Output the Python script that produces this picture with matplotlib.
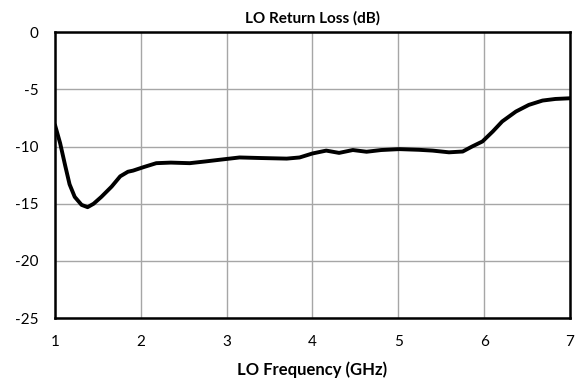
import matplotlib
matplotlib.use('Agg')
import matplotlib.pyplot as plt

# valores
freq_ghz = [1.00, 1.06, 1.12, 1.17, 1.23, 1.31, 1.38, 1.45, 1.54, 1.66, 1.76, 1.85,
            1.91, 2.03, 2.18, 2.35, 2.57, 2.75, 2.92, 3.15, 3.40, 3.70, 3.85, 4.00,
            4.16, 4.31, 4.47, 4.63, 4.80, 5.01, 5.24, 5.40, 5.59, 5.75, 5.86, 5.98,
            6.10, 6.21, 6.37, 6.52, 6.68, 6.83, 7.00]
return_loss_db = [-8.1, -9.7, -11.7, -13.3, -14.4, -15.1, -15.3, -15.0, -14.4, -13.5,
                  -12.6, -12.2, -12.1, -11.8, -11.45, -11.4, -11.45, -11.3, -11.15,
                  -10.95, -11.0, -11.05, -10.95, -10.6, -10.35, -10.55, -10.3, -10.45,
                  -10.3, -10.22, -10.28, -10.35, -10.5, -10.43, -9.99, -9.55, -8.68,
                  -7.8, -6.93, -6.35, -5.97, -5.83, -5.77]

x_ticks = [1, 2, 3, 4, 5, 6, 7]
y_ticks = [0, -5, -10, -15, -20, -25]

plt.rcParams['font.family'] = ['Lato', 'DejaVu Sans']
plt.rcParams['axes.unicode_minus'] = False

fig = plt.figure(figsize=(5.83, 3.85), dpi=100)
ax = fig.add_axes([0.0943, 0.174, 0.8834, 0.742])

ax.plot(freq_ghz, return_loss_db, color='black', linewidth=2.8,
        solid_capstyle='round', solid_joinstyle='round')

ax.set_xlim(1, 7)
ax.set_ylim(-25, 0)
ax.set_xticks(x_ticks)
ax.set_yticks(y_ticks)
ax.grid(True, color='#a6a6a6', linewidth=1.0)
ax.set_axisbelow(True)
ax.tick_params(length=0, labelsize=11)
ax.tick_params(axis='x', pad=12)
ax.tick_params(axis='y', pad=12)
for s in ax.spines.values():
    s.set_linewidth(1.8)
    s.set_color('black')

ax.set_title("LO Return Loss (dB)", fontsize=11, fontweight='bold', pad=7)
ax.set_xlabel("LO Frequency (GHz)", fontsize=12, fontweight='bold', labelpad=9)

fig.savefig('out.png', dpi=100)
